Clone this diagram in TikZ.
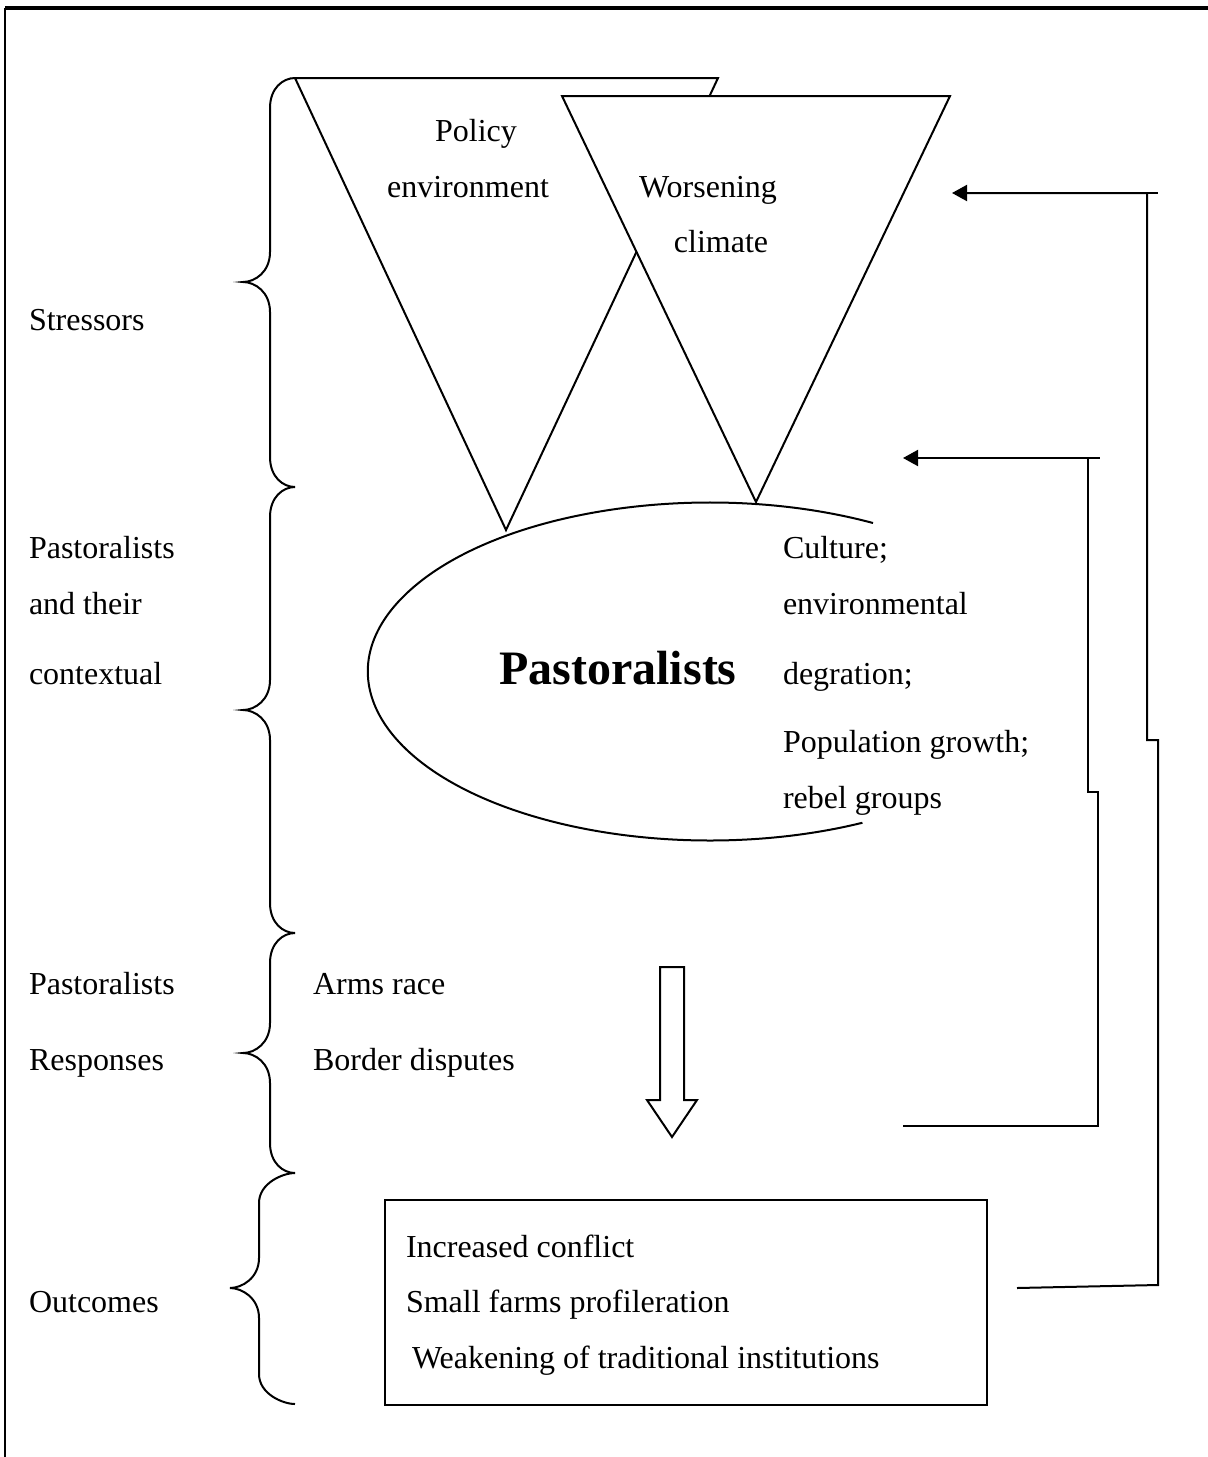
\documentclass[tikz,border=0pt]{standalone}
\usepackage{fontspec}
\setmainfont{Liberation Serif}
\usetikzlibrary{arrows.meta}
\newcommand{\bracePath}[6]{%
  \draw (#3,#4) .. controls ({#3-12},#4) and (#1,{#4+10}) .. (#1,{#4+30})
    -- (#1,{#5-30}) .. controls (#1,{#5-10}) and ({#2+12},#5) .. (#2,#5)
    .. controls ({#2+12},#5) and (#1,{#5+10}) .. (#1,{#5+30})
    -- (#1,{#6-30}) .. controls (#1,{#6-10}) and ({#3-12},#6) .. (#3,#6);}
\begin{document}
\begin{tikzpicture}[x=0.5pt,y=-0.5pt,line width=1pt,
  lbl/.style={anchor=base west,inner sep=0pt,font=\fontsize{16}{19}\selectfont},
  ctr/.style={anchor=base,inner sep=0pt,font=\fontsize{16}{19}\selectfont},
  fb/.style={-{Triangle[length=7.5pt,width=8pt]}}]
\useasboundingbox (0,0) rectangle (1208,1457);
% frame
\draw[line width=2pt] (5,8) -- (1208,8);
\draw (5,8) -- (5,1457);
% triangles
\draw (295,78) -- (718,78) -- (506,530) -- cycle;
\draw[fill=white] (562,96) -- (950,96) -- (756,502) -- cycle;
\node[ctr] (t1a) at (476,141) {Policy};
\node[ctr] (t1b) at (468,197) {environment};
\node[ctr] (t2a) at (708,197) {Worsening};
\node[ctr] (t2b) at (721,252) {climate};
% ellipse
\draw (873,523) arc[start angle=-61.5,end angle=-296.5,x radius=342,y radius=169];
\node[anchor=base,inner sep=0pt,font=\fontsize{24}{29}\selectfont\bfseries] (past) at (618,684) {Pastoralists};
\node[lbl] (c1) at (782,558) {Culture;};
\node[lbl] (c2) at (782,614) {environmental};
\node[lbl] (c3) at (782,684) {degration;};
\node[lbl] (c4) at (782,752) {Population growth;};
\node[lbl] (c5) at (782,808) {rebel groups};
% braces
\bracePath{270}{243}{295}{78}{282}{487}
\bracePath{270}{243}{295}{487}{710}{933}
\bracePath{270}{243}{295}{933}{1053}{1173}
\bracePath{259}{230}{295}{1173}{1288}{1404}
% left labels
\node[lbl] (l1) at (28,330) {Stressors};
\node[lbl] (l2) at (28,558) {Pastoralists};
\node[lbl] (l3) at (28,614) {and their};
\node[lbl] (l4) at (28,684) {contextual};
\node[lbl] (l5) at (28,994) {Pastoralists};
\node[lbl] (l6) at (28,1070) {Responses};
\node[lbl] (l7) at (28,1312) {Outcomes};
\node[lbl] (r1) at (312,994) {Arms race};
\node[lbl] (r2) at (312,1070) {Border disputes};
% block arrow
\draw (660,967) -- (684,967) -- (684,1100) -- (697,1100) -- (672,1137) -- (647,1100) -- (660,1100) -- cycle;
% outcomes box
\node[draw,inner sep=0pt,minimum width=301pt,minimum height=102.5pt] (outbox) at (686,1302.5) {};
\node[lbl] (o1) at (405,1257) {Increased conflict};
\node[lbl] (o2) at (405,1312) {Small farms profileration};
\node[lbl] (o3) at (411,1368) {Weakening of traditional institutions};
% feedback connectors
\coordinate (oS) at (1017,1288);
\coordinate (oE) at (952,193);
\coordinate (oT) at (1158,193);
\draw[fb] (oS) -- (1158,1285) -- (1158,740) -- (1147,740) -- (1147,193) -- (oE);
\draw (1147,193) -- (oT);
\coordinate (iS) at (903,1126);
\coordinate (iE) at (903,458);
\coordinate (iT) at (1100,458);
\draw[fb] (iS) -- (1098,1126) -- (1098,792) -- (1088,792) -- (1088,458) -- (iE);
\draw (1088,458) -- (iT);
\end{tikzpicture}
\end{document}
